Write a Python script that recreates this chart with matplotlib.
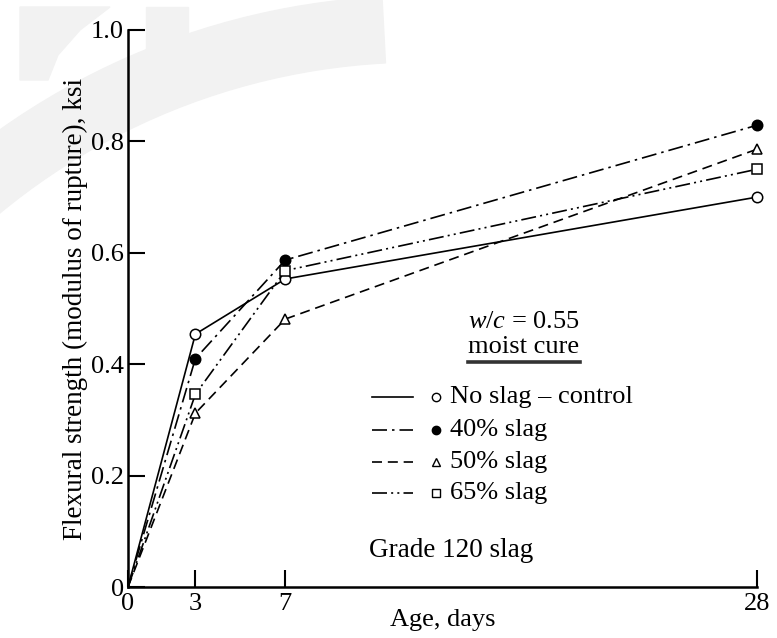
import matplotlib
matplotlib.use("Agg")
import matplotlib.pyplot as plt
from matplotlib.ticker import FixedLocator, FuncFormatter
from matplotlib.patches import Rectangle, Wedge, Polygon
from matplotlib.transforms import IdentityTransform

plt.rcParams['font.family'] = ['Liberation Serif', 'DejaVu Serif']
plt.rcParams['mathtext.fontset'] = 'custom'
plt.rcParams['mathtext.it'] = 'Liberation Serif:italic'
plt.rcParams['mathtext.rm'] = 'Liberation Serif'

ages = [0, 3, 7, 28]
no_slag = [0, 0.454, 0.553, 0.700]
slag40 = [0, 0.410, 0.587, 0.829]
slag50 = [0, 0.312, 0.481, 0.786]
slag65 = [0, 0.346, 0.568, 0.750]
labels = ["No slag \u2013 control", "40% slag", "50% slag", "65% slag"]
x_ticks = [0, 3, 7, 28]
y_ticks = [0, 0.2, 0.4, 0.6, 0.8, 1.0]

fig = plt.figure(figsize=(7.77, 6.38), dpi=100)
H = 638
wm = '#f2f2f2'
idt = IdentityTransform()
fig.patches.append(Rectangle((146, H - 80), 42, 73, transform=idt, color=wm, zorder=-5))
fig.patches.append(Wedge((420, -84), 726, 93, 140, width=66, transform=idt, color=wm, zorder=-5))
fig.patches.append(Polygon([(20, H - 7), (110, H - 7), (80, H - 30), (58, H - 55), (48, H - 80), (20, H - 80)],
                           closed=True, transform=idt, color=wm, zorder=-5))

ax = fig.add_axes([128/777, 1-587/638, 629/777, 557/638])
ax.patch.set_alpha(0)

styles = [
    dict(ls='-', marker='o', mfc='white'),
    dict(ls=(0, (9, 3, 1.5, 3)), marker='o', mfc='black'),
    dict(ls=(0, (6, 3.5)), marker='^', mfc='white'),
    dict(ls=(0, (9, 2.5, 1.2, 2.5, 1.2, 2.5)), marker='s', mfc='white'),
]
series = [no_slag, slag40, slag50, slag65]
for vals, st in zip(series, styles):
    ax.plot(ages, vals, color='black', lw=1.2, linestyle=st['ls'], zorder=2)
    ax.plot(ages[1:], vals[1:], linestyle='none', marker=st['marker'], mfc=st['mfc'],
            mec='black', mew=1.1, ms=7.5 if st['marker'] != '^' else 7, zorder=3, clip_on=False)

ax.set_xlim(0, 28)
ax.set_ylim(0, 1.0)
ax.spines['top'].set_visible(False)
ax.spines['right'].set_visible(False)
for s in ['left', 'bottom']:
    ax.spines[s].set_linewidth(1.8)
ax.xaxis.set_major_locator(FixedLocator(x_ticks))
ax.yaxis.set_major_locator(FixedLocator(y_ticks))
ax.yaxis.set_major_formatter(FuncFormatter(lambda v, p: "0" if v == 0 else f"{v:.1f}"))
ax.tick_params(direction='in', length=12, width=1.5, labelsize=19, pad=3)
ax.tick_params(axis='x', pad=4)
ax.set_xlabel("Age, days", fontsize=19, labelpad=-4)
ax.set_ylabel("Flexural strength (modulus of rupture), ksi", fontsize=19.5, labelpad=2)

# legend
rows = [0.341, 0.282, 0.224, 0.169]
for yv, st, lab in zip(rows, styles, labels):
    ax.plot([0.388, 0.453], [yv, yv], transform=ax.transAxes, color='black', lw=1.2,
            linestyle=st['ls'], clip_on=False)
    ax.plot([0.490], [yv], transform=ax.transAxes, marker=st['marker'], mfc=st['mfc'],
            mec='black', mew=1.0, ms=6 if st['marker'] != '^' else 5.5, linestyle='none', clip_on=False)
    ax.text(0.512, yv, lab, transform=ax.transAxes, fontsize=19, va='center', ha='left')

ax.text(0.629, 0.476, r"$\mathit{w/c}$ = 0.55", transform=ax.transAxes, fontsize=19,
        ha='center', va='center')
ax.text(0.629, 0.430, "moist cure", transform=ax.transAxes, fontsize=19, ha='center', va='center')
ax.plot([0.540, 0.718], [0.404, 0.404], transform=ax.transAxes, color='#333333', lw=2.6)
ax.text(0.514, 0.066, "Grade 120 slag", transform=ax.transAxes, fontsize=19.5, ha='center', va='center')

fig.savefig("out.png", dpi=100)
